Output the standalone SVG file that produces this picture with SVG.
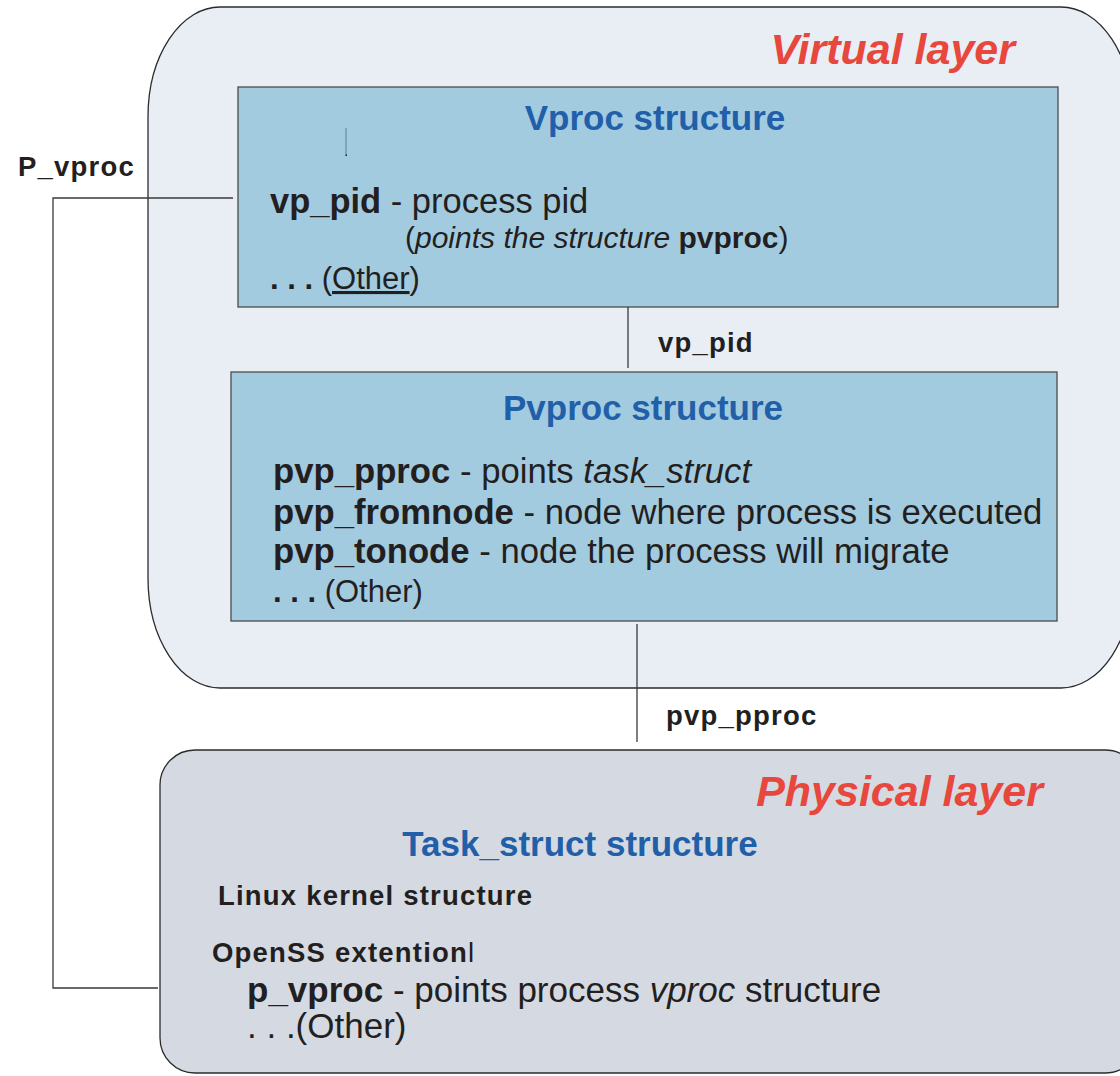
<svg xmlns="http://www.w3.org/2000/svg" width="1120" height="1076" viewBox="0 0 1120 1076">
<style>
text{font-family:"Liberation Sans",Arial,sans-serif;fill:#231f20}
.b{font-weight:bold}
.i{font-style:italic}
.layer{font-weight:bold;font-style:italic;fill:#e8473d;font-size:43px}
.title{font-weight:bold;fill:#2160a9;font-size:35px}
.lbl{font-weight:bold;font-size:27.5px;letter-spacing:1.2px}
.conn{fill:none;stroke:#3a3a3a;stroke-width:1.3}
</style>
<rect width="1120" height="1076" fill="#ffffff"/>
<g id="virtual-layer">
<rect x="148" y="7" width="985" height="681" rx="72" ry="110" fill="#e9eef5" stroke="#2b2b2b" stroke-width="1.3"/>
<text class="layer" x="1015" y="64" text-anchor="end">Virtual layer</text>
</g>
<g id="vproc">
<rect x="238" y="87" width="820" height="220" fill="#a3cbe0" stroke="#4a4a4a" stroke-width="1.3"/>
<text class="title" x="655" y="130" text-anchor="middle">Vproc structure</text>
<line x1="346" y1="128" x2="346" y2="155" stroke="#5f7f90" stroke-width="1"/>
<rect x="345.5" y="154.5" width="1.5" height="1.5" fill="#222"/>
<text x="270" y="213" font-size="34.5"><tspan class="b">vp_pid</tspan> - process pid</text>
<text x="405" y="248" font-size="30">(<tspan class="i">points the structure </tspan><tspan class="b">pvproc</tspan>)</text>
<text x="270" y="289" font-size="31"><tspan class="b">. . . </tspan>(<tspan text-decoration="underline">Other</tspan>)</text>
</g>
<g id="pvproc">
<rect x="231" y="372" width="826" height="249" fill="#a3cbe0" stroke="#4a4a4a" stroke-width="1.3"/>
<text class="title" x="643" y="420" text-anchor="middle">Pvproc structure</text>
<text x="273" y="483" font-size="34.7"><tspan class="b">pvp_pproc</tspan> - points <tspan class="i">task_struct</tspan></text>
<text x="273" y="524" font-size="34.7"><tspan class="b">pvp_fromnode</tspan> - node where process is executed</text>
<text x="273" y="563" font-size="34.7"><tspan class="b">pvp_tonode</tspan> - node the process will migrate</text>
<text x="273" y="602" font-size="31"><tspan class="b">. . . </tspan>(Other)</text>
</g>
<g id="physical-layer">
<rect x="160" y="750" width="980" height="323" rx="35" ry="35" fill="#d5dae2" stroke="#2b2b2b" stroke-width="1.3"/>
<text class="layer" x="1043" y="806" text-anchor="end">Physical layer</text>
<text class="title" x="580" y="856" text-anchor="middle">Task_struct structure</text>
<text class="lbl" x="218" y="905">Linux kernel structure</text>
<text class="lbl" x="212" y="962">OpenSS extention<tspan font-weight="normal">l</tspan></text>
<text x="247" y="1002" font-size="35"><tspan class="b">p_vproc</tspan> - points process <tspan class="i">vproc</tspan> structure</text>
<text x="247" y="1038" font-size="35">. . .(Other)</text>
</g>
<g id="connectors">
<polyline class="conn" points="233,198 53,198 53,988 158,988"/>
<line class="conn" x1="628" y1="307" x2="628" y2="368"/>
<line class="conn" x1="637" y1="624" x2="637" y2="742"/>
<text class="lbl" x="18" y="176">P_vproc</text>
<text class="lbl" x="658" y="352">vp_pid</text>
<text class="lbl" x="666" y="725">pvp_pproc</text>
</g>
</svg>
